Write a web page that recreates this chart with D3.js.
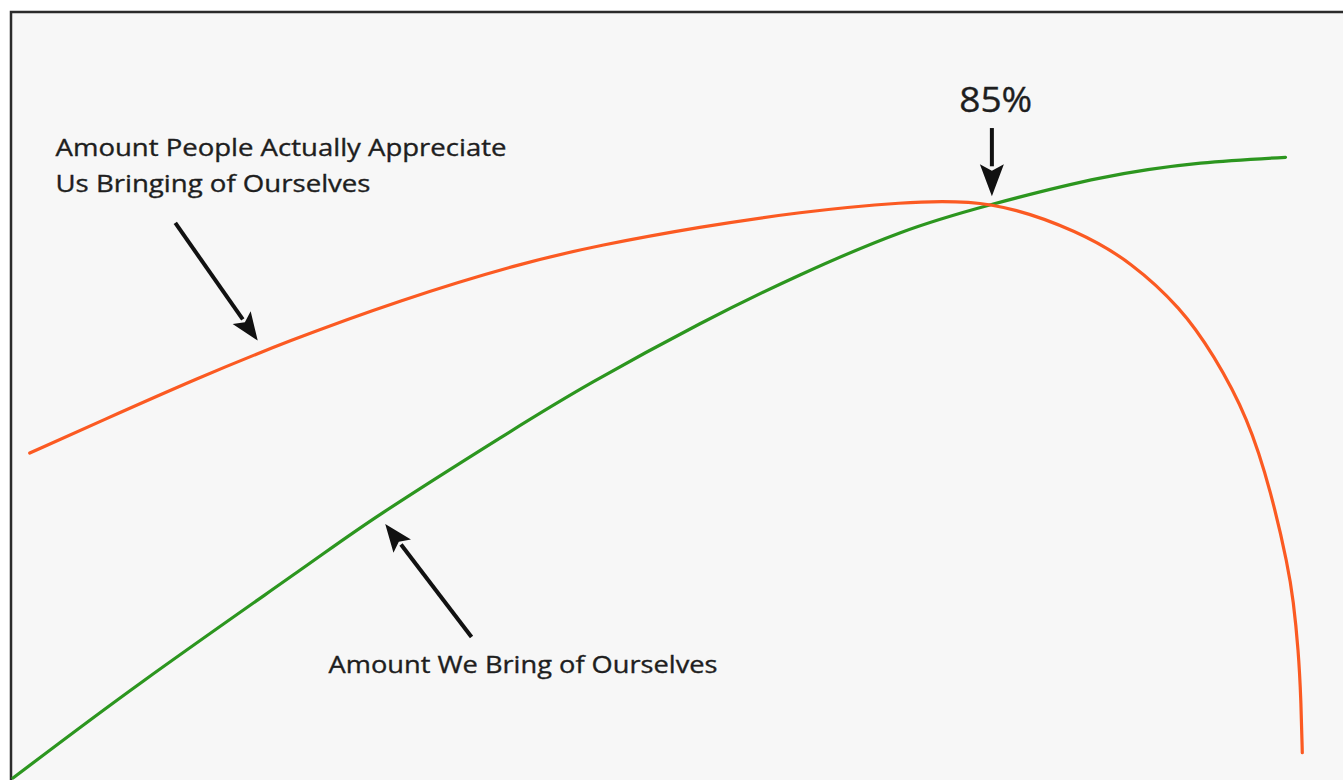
<!DOCTYPE html>
<html>
<head>
<meta charset="utf-8">
<script src="https://cdn.jsdelivr.net/npm/d3@7/dist/d3.min.js"></script>
<style>
  html, body { margin: 0; padding: 0; background: #ffffff; }
  svg { display: block; }
</style>
</head>
<body>
<svg id="chart" width="1343" height="780"></svg>
<script>
// ---- Data (x: amount of ourselves, y: level) ----
const appreciateX = [1.3, 6.8, 14.3, 21.3, 30.0, 39.4, 45.6, 53.3, 61.1, 68.9, 75.9, 82.9, 86.8, 90.7, 93.2, 95.9, 97.7, 99.0, 99.4, 99.8, 100.0, 100.1];
const appreciateY = [50.3, 55.2, 61.8, 67.5, 73.8, 79.5, 82.3, 85.1, 87.4, 88.9, 89.4, 84.3, 79.7, 72.6, 65.5, 55.7, 44.2, 32.8, 27.7, 20.0, 12.3, 4.2];

const bringX = [0.0, 10.1, 22.3, 28.7, 37.8, 45.0, 53.3, 61.1, 68.9, 75.9, 84.4, 92.2, 98.8];
const bringY = [0.3, 15.2, 32.3, 41.1, 52.6, 61.2, 70.15, 77.7, 84.2, 88.5, 92.6, 94.9, 95.8];

const labelLines = ["Amount People Actually Appreciate", "Us Bringing of Ourselves"];
const bringLabel = "Amount We Bring of Ourselves";
const crossLabel = "85%";

// annotation anchors in data units: [tailX, tailY, tipX, tipY]
const arrowAppreciate = [12.6, 85.7, 19.0, 67.6];
const arrowBring = [35.6, 22.0, 28.9, 39.4];
const arrowCross = [76.0, 100.3, 76.0, 89.8];

// ---- Scales ----
const x = d3.scaleLinear().domain([0, 100]).range([13, 1301]);
const y = d3.scaleLinear().domain([0, 100]).range([780, 130]);

const svg = d3.select("#chart");

// frame / background
svg.append("rect")
  .attr("x", 11).attr("y", 12)
  .attr("width", 1345).attr("height", 780)
  .attr("fill", "#f7f7f7")
  .attr("stroke", "#2b2b2b")
  .attr("stroke-width", 2.5);

const line = d3.line()
  .x(d => x(d[0]))
  .y(d => y(d[1]));

const appreciate = appreciateX.map((v, i) => [v, appreciateY[i]]);
const bring = bringX.map((v, i) => [v, bringY[i]]);

svg.append("path")
  .datum(bring)
  .attr("d", line.curve(d3.curveNatural))
  .attr("fill", "none")
  .attr("stroke", "#2c961f")
  .attr("stroke-width", 3.2)
  .attr("stroke-linecap", "round");

svg.append("path")
  .datum(appreciate)
  .attr("d", line.curve(d3.curveBasis))
  .attr("fill", "none")
  .attr("stroke", "#fb5a22")
  .attr("stroke-width", 3.2)
  .attr("stroke-linecap", "round");

// arrows
function drawArrow(a, headLen, headW) {
  const x1 = x(a[0]), y1 = y(a[1]), x2 = x(a[2]), y2 = y(a[3]);
  const ang = Math.atan2(y2 - y1, x2 - x1);
  const bx = x2 - headLen * Math.cos(ang), by = y2 - headLen * Math.sin(ang);
  svg.append("line")
    .attr("x1", x1).attr("y1", y1)
    .attr("x2", bx + 2 * Math.cos(ang)).attr("y2", by + 2 * Math.sin(ang))
    .attr("stroke", "#111").attr("stroke-width", 4);
  const px = -Math.sin(ang), py = Math.cos(ang);
  svg.append("path")
    .attr("d", `M${x2},${y2} L${bx + px * headW / 2},${by + py * headW / 2} L${bx + headLen * 0.2 * Math.cos(ang)},${by + headLen * 0.2 * Math.sin(ang)} L${bx - px * headW / 2},${by - py * headW / 2} Z`)
    .attr("fill", "#111");
}
drawArrow(arrowAppreciate, 28, 22);
drawArrow(arrowBring, 28, 22);
drawArrow(arrowCross, 32, 24);

// labels
const font = "'Open Sans', 'Noto Sans', sans-serif";
function label(txt, xv, yv, size, len, anchor) {
  const t = svg.append("text")
    .attr("x", x(xv)).attr("y", y(yv))
    .attr("font-family", font).attr("font-size", size)
    .attr("fill", "#1e1e1e")
    .attr("stroke", "#1e1e1e").attr("stroke-width", 0.35)
    .attr("text-anchor", anchor || "start")
    .text(txt);
  if (len) t.attr("textLength", len).attr("lengthAdjust", "spacingAndGlyphs");
  return t;
}
label(labelLines[0], 3.3, 96.0, 23, 451);
label(labelLines[1], 3.3, 90.5, 23, 315);
label(bringLabel, 24.5, 16.4, 23, 389);
label(crossLabel, 76.3, 102.8, 34, 73, "middle");
</script>
</body>
</html>
